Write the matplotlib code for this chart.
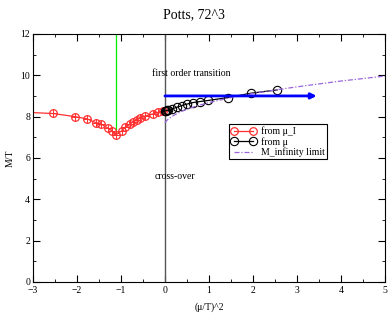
import matplotlib
matplotlib.use("Agg")
import matplotlib.pyplot as plt
from matplotlib.ticker import MultipleLocator

plt.rcParams['font.family'] = ['Liberation Serif', 'DejaVu Serif']

# data
mui_x = [-3.3, -2.55, -2.05, -1.77, -1.575, -1.46, -1.29, -1.21, -1.11,
         -0.98, -0.91, -0.80, -0.72, -0.63, -0.57, -0.45, -0.27, -0.15, -0.05]
mui_y = [8.22, 8.15, 8.0, 7.89, 7.71, 7.64, 7.44, 7.32, 7.12,
         7.32, 7.48, 7.64, 7.74, 7.84, 7.92, 8.03, 8.13, 8.21, 8.25]

mu_x = [0.0, 0.02, 0.04, 0.075, 0.15, 0.27, 0.38, 0.49, 0.64, 0.80, 0.98, 1.43, 1.95, 2.55]
mu_y = [8.27, 8.28, 8.3, 8.32, 8.37, 8.45, 8.53, 8.60, 8.68, 8.73, 8.78, 8.92, 9.13, 9.29]

minf_x = [0.0, 0.05, 0.1, 0.2, 0.4, 0.7, 1.0, 1.5, 2.0, 2.55, 3.0, 3.5, 4.0, 4.5, 5.0]
minf_y = [7.7, 7.83, 7.92, 8.06, 8.28, 8.5, 8.68, 8.92, 9.12, 9.3, 9.44, 9.58, 9.72, 9.84, 9.96]

green_x = -1.11
green_y = [7.12, 12]
arrow_start = (0.0, 9.0)
arrow_end = (3.45, 9.0)

fig = plt.figure(figsize=(3.88, 3.14), dpi=100)
ax = fig.add_axes([0.085, 0.102, 0.907, 0.79])

ax.plot([green_x, green_x], green_y, color='#00ee00', lw=0.9)
ax.axvline(0, color='#555555', lw=1.0)

ax.plot(mui_x, mui_y, color='#ff3030', lw=0.9, marker='o', ms=5.5,
        mfc='none', mec='#ff3030', mew=0.9, label='from μ_I')
ax.plot(mui_x, mui_y, ls='none', marker='+', ms=5.5, mec='#ff3030', mew=0.7)
ax.plot(mu_x, mu_y, color='black', lw=0.9, marker='o', ms=6,
        mfc='none', mec='black', mew=0.8, label='from μ')
ax.plot(minf_x, minf_y, color='#9966dd', lw=0.9, ls=(0, (4, 1.5, 1, 1.5)),
        label='M_infinity limit')

ax.annotate('', xy=arrow_end, xytext=arrow_start,
            arrowprops=dict(arrowstyle='-|>', color='#0000ff', lw=2,
                            mutation_scale=8, shrinkA=0, shrinkB=0))

ax.text(-0.3, 10.1, 'first order transition', fontsize=7, va='center')
ax.text(-0.23, 5.1, 'cross-over', fontsize=7, va='center')

ax.set_xlim(-3, 5)
ax.set_ylim(0, 12)
ax.xaxis.set_major_locator(MultipleLocator(1))
ax.xaxis.set_minor_locator(MultipleLocator(0.5))
ax.yaxis.set_major_locator(MultipleLocator(2))
ax.yaxis.set_minor_locator(MultipleLocator(1))
ax.tick_params(which='both', direction='in', top=True, right=True, labelsize=7)
ax.tick_params(which='major', length=5, pad=2)
ax.tick_params(which='minor', length=2.5)
ax.tick_params(axis='x', which='major', pad=3)

ax.set_xlabel('(μ/T)^2', fontsize=7, labelpad=5)
ax.set_ylabel('M/T', fontsize=7, labelpad=4)
fig.suptitle('Potts, 72^3', fontsize=10, y=0.975)

leg = ax.legend(loc='upper left', bbox_to_anchor=(0.558, 0.635), fontsize=7,
                fancybox=False, edgecolor='black', framealpha=1, numpoints=2,
                handlelength=2.5, borderpad=0.2, labelspacing=0.1,
                handletextpad=0.6, borderaxespad=0)
leg.get_frame().set_linewidth(0.8)

fig.savefig('out.png', dpi=100)
